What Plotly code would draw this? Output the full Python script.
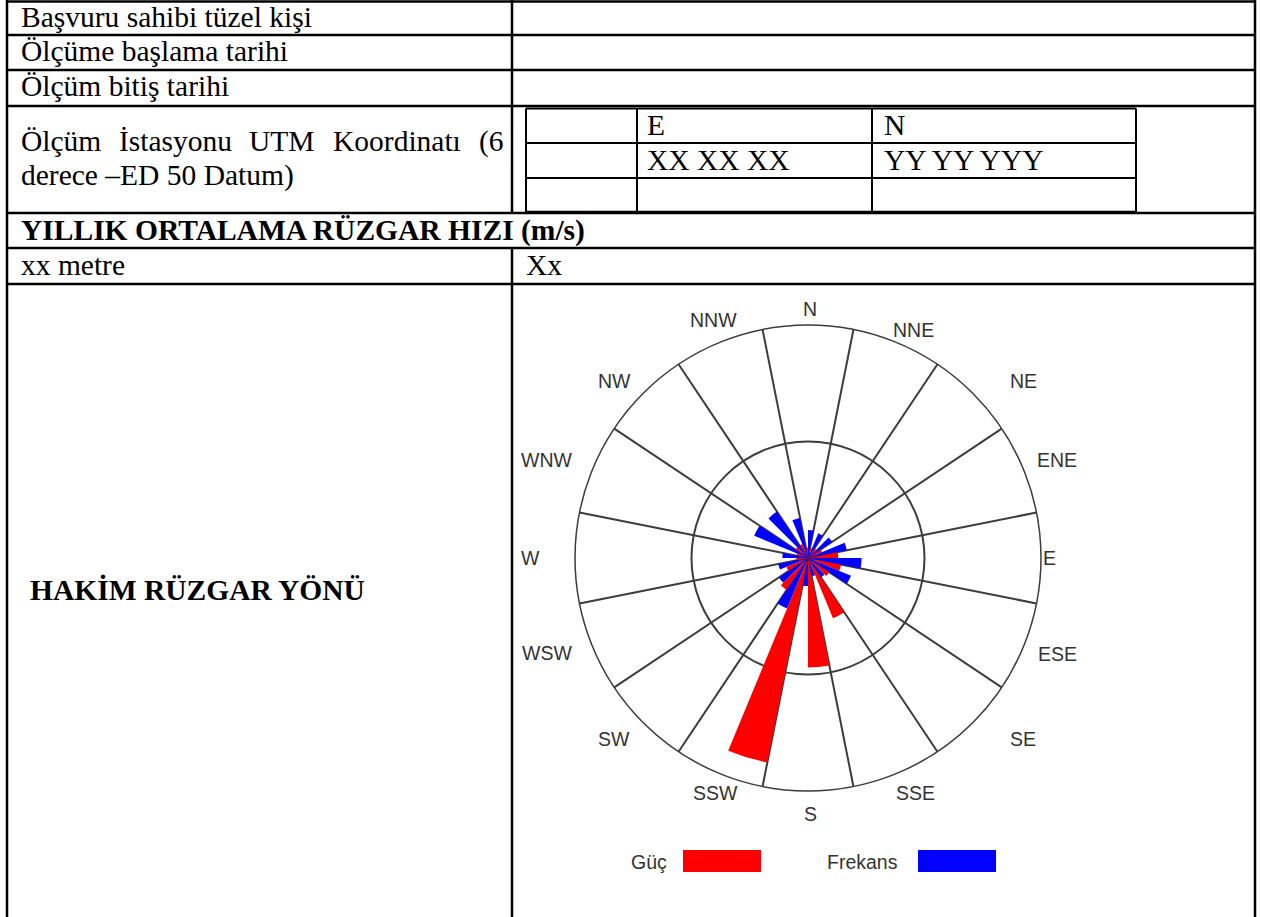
import plotly.graph_objects as go

W, H = 1261, 917

# ---------------- data ----------------
directions = ["N", "NNE", "NE", "ENE", "E", "ESE", "SE", "SSE",
              "S", "SSW", "SW", "WSW", "W", "WNW", "NW", "NNW"]
angles = [0, 22.5, 45, 67.5, 90, 112.5, 135, 157.5,
          180, 202.5, 225, 247.5, 270, 292.5, 315, 337.5]
sector_edges = [11.25, 33.75, 56.25, 78.75, 101.25, 123.75, 146.25, 168.75,
                191.25, 213.75, 236.25, 258.75, 281.25, 303.75, 326.25, 348.75]
guc = [0.9, 0.9, 1.0, 1.3, 2.6, 2.9, 2.2, 5.6,
       9.4, 17.9, 3.3, 2.0, 1.0, 1.0, 1.3, 1.3]          # Güç (red)
frekans = [2.4, 2.3, 2.5, 3.4, 4.6, 4.0, 2.0, 1.6,
           2.4, 4.7, 3.0, 2.6, 2.2, 5.0, 4.8, 3.5]       # Frekans (blue)
radial_max = 20
ring_vals = [10]

legend_labels = ["Güç", "Frekans"]
legend_colors = ["#FF0000", "#0000FF"]

# label centre positions around the rose (pixels)
label_pos = [(810, 309), (913, 330), (1023, 381), (1057, 460), (1049, 558), (1057, 654),
             (1023, 739), (915, 793), (810, 814), (715, 793), (614, 739), (547, 653),
             (530, 558), (546, 460), (614, 381), (713, 320)]

# ---------------- helpers ----------------
def px(x):
    return x / W

def py(y):
    return 1 - y / H

SERIF = "Liberation Serif, Times New Roman, serif"
SANS = "Liberation Sans, Arial, sans-serif"
TXT = 29.5
LAB = 19.5

fig = go.Figure()

half = 11.25
fig.add_trace(go.Barpolar(r=guc, theta=angles, width=[half] * 16, offset=[-half] * 16,
                          marker=dict(color=legend_colors[0], line=dict(width=0)),
                          name=legend_labels[0], subplot="polar", showlegend=False))
fig.add_trace(go.Barpolar(r=frekans, theta=angles, width=[half] * 16, offset=[0] * 16,
                          marker=dict(color=legend_colors[1], line=dict(width=0)),
                          name=legend_labels[1], subplot="polar", showlegend=False))

# rose geometry (pixels)
cx, cy, R = 808, 558, 233
dom_x = [px(cx - R), px(cx + R)]
dom_y = [py(cy + R), py(cy - R)]
GRID = "#3c3c3c"

fig.update_layout(
    width=W, height=H, margin=dict(l=0, r=0, t=0, b=0),
    paper_bgcolor="white", plot_bgcolor="white",
    polar=dict(
        domain=dict(x=dom_x, y=dom_y), bgcolor="white", barmode="overlay",
        angularaxis=dict(rotation=90, direction="clockwise", tickmode="array",
                         tickvals=sector_edges, ticktext=[""] * 16, showticklabels=False,
                         ticks="", showgrid=True, gridcolor=GRID, gridwidth=1.5,
                         showline=True, linecolor=GRID, linewidth=1.5, layer="below traces"),
        radialaxis=dict(range=[0, radial_max], tickmode="array", tickvals=ring_vals,
                        showticklabels=False, ticks="", showline=False,
                        gridcolor=GRID, gridwidth=1.5, layer="below traces"),
    ),
)

# ---------------- table lines ----------------
shapes = []
def hline(x0, x1, y, w=2.5):
    shapes.append(dict(type="line", xref="paper", yref="paper", x0=px(x0), x1=px(x1),
                       y0=py(y), y1=py(y), line=dict(color="black", width=w)))
def vline(x, y0, y1, w=2.5):
    shapes.append(dict(type="line", xref="paper", yref="paper", x0=px(x), x1=px(x),
                       y0=py(y0), y1=py(y1), line=dict(color="black", width=w)))

L, Rr, MID = 7, 1255, 512
for y in [1.5, 35, 70, 106, 213, 248, 284]:
    hline(L - 1, Rr + 1, y)
vline(L, 0, H)
vline(Rr, 0, H)
vline(MID, 0, 214)
vline(MID, 248, H)
# inner coordinate table
IL, IR, IT, IB = 526, 1136, 108.5, 212
hline(IL, IR, IT, 2)
hline(IL, IR, 143, 2)
hline(IL, IR, 178, 2)
hline(IL, IR, IB, 2.5)
for x in [IL, 637, 872, IR]:
    vline(x, IT, IB, 2)

# legend boxes
shapes.append(dict(type="rect", xref="paper", yref="paper", x0=px(683), x1=px(761),
                   y0=py(872), y1=py(850), fillcolor=legend_colors[0], line=dict(width=0)))
shapes.append(dict(type="rect", xref="paper", yref="paper", x0=px(918), x1=px(996),
                   y0=py(872), y1=py(850), fillcolor=legend_colors[1], line=dict(width=0)))
fig.update_layout(shapes=shapes)

# ---------------- texts ----------------
ann = []
def text(s, x, y, bold=False, size=TXT, family=SERIF, color="black", anchor="left"):
    ann.append(dict(text=("<b>%s</b>" % s) if bold else s, x=px(x), y=py(y),
                    xref="paper", yref="paper", xanchor=anchor, yanchor="middle",
                    showarrow=False, font=dict(family=family, size=size, color=color)))

X0 = 19
text("Başvuru sahibi tüzel kişi", X0, 17)
text("Ölçüme başlama tarihi", X0, 51)
text("Ölçüm bitiş tarihi", X0, 86)
for w_, x_ in [("Ölçüm", X0), ("İstasyonu", 117), ("UTM", 247), ("Koordinatı", 331), ("(6", 477)]:
    text(w_, x_, 141)
text("derece –ED 50 Datum)", X0, 175)
text("E", 645, 125)
text("N", 882, 125)
text("XX XX XX", 645, 160)
text("YY YY YYY", 882, 160)
text("YILLIK ORTALAMA RÜZGAR HIZI (m/s)", X0, 230, bold=True)
text("xx metre", X0, 265)
text("Xx", 524, 265)
text("HAKİM RÜZGAR YÖNÜ", 28, 590, bold=True)
text(legend_labels[0], 629, 862, size=LAB, family=SANS, color="#333333")
text(legend_labels[1], 825, 862, size=LAB, family=SANS, color="#333333")
for lab, (lx, ly) in zip(directions, label_pos):
    text(lab, lx, ly, size=LAB, family=SANS, color="#333333", anchor="center")
fig.update_layout(annotations=ann)

fig.write_html("out.html", config={"displayModeBar": False},
               post_script="document.body.style.margin='0px';document.body.style.padding='0px';")
